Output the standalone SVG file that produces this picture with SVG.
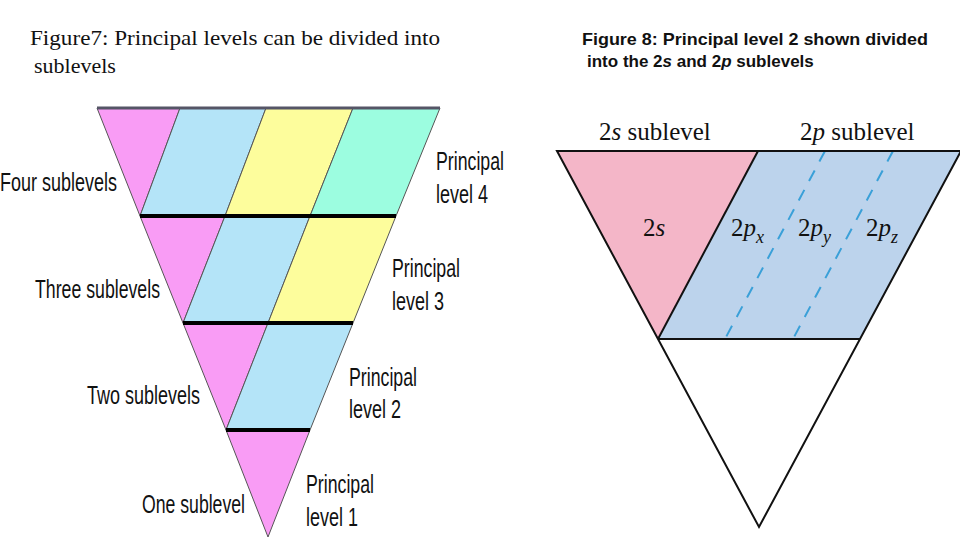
<svg xmlns="http://www.w3.org/2000/svg" width="960" height="540" viewBox="0 0 960 540">
<style>
.lab{font-family:"Liberation Sans",Arial,sans-serif;font-size:25px;fill:#111}
.tm{font-family:"Liberation Serif","Times New Roman",serif;fill:#111}
.e{stroke:#555;stroke-width:1}
.bar{stroke:#000;stroke-width:4}
.ds{stroke:#3aa0d8;stroke-width:2;stroke-dasharray:12,10}
</style>
<rect width="960" height="540" fill="#fff"/>
<g id="titles">
<text class="tm" x="30" y="45" font-size="22" textLength="410" lengthAdjust="spacingAndGlyphs">Figure7: Principal levels can be divided into</text>
<text class="tm" x="34" y="73" font-size="22">sublevels</text>
<text x="582" y="45" font-family="Liberation Sans,Arial,sans-serif" font-size="17" font-weight="bold" fill="#111" textLength="346" lengthAdjust="spacingAndGlyphs">Figure 8: Principal level 2 shown divided</text>
<text x="587" y="67" font-family="Liberation Sans,Arial,sans-serif" font-size="17" font-weight="bold" fill="#111">into the 2<tspan font-style="italic">s</tspan> and 2<tspan font-style="italic">p</tspan> sublevels</text>
</g>
<g id="fig7">
<g class="e">
<polygon points="97,108 180,108 140,216" fill="#f99cf5"/>
<polygon points="180,108 266,108 225,216 140,216" fill="#b4e4f8"/>
<polygon points="266,108 353,108 310,216 225,216" fill="#fdfd9c"/>
<polygon points="353,108 440,108 396,216 310,216" fill="#9cfde0"/>
<polygon points="140,216 225,216 183,323" fill="#f99cf5"/>
<polygon points="225,216 310,216 268,323 183,323" fill="#b4e4f8"/>
<polygon points="310,216 396,216 353,323 268,323" fill="#fdfd9c"/>
<polygon points="183,323 268,323 226,430" fill="#f99cf5"/>
<polygon points="268,323 353,323 310,430 226,430" fill="#b4e4f8"/>
<polygon points="226,430 310,430 268,537" fill="#f99cf5"/>
</g>
<line x1="97" y1="108" x2="440" y2="108" stroke="#556" stroke-width="3"/>
<line class="bar" x1="140" y1="216" x2="396" y2="216"/>
<line class="bar" x1="183" y1="323" x2="353" y2="323"/>
<line class="bar" x1="226" y1="430" x2="310" y2="430"/>
<text class="lab" x="0" y="191" textLength="117" lengthAdjust="spacingAndGlyphs">Four sublevels</text>
<text class="lab" x="436" y="170" textLength="68" lengthAdjust="spacingAndGlyphs">Principal</text>
<text class="lab" x="436" y="203" textLength="52" lengthAdjust="spacingAndGlyphs">level 4</text>
<text class="lab" x="35" y="298" textLength="125" lengthAdjust="spacingAndGlyphs">Three sublevels</text>
<text class="lab" x="392" y="277" textLength="68" lengthAdjust="spacingAndGlyphs">Principal</text>
<text class="lab" x="392" y="310" textLength="52" lengthAdjust="spacingAndGlyphs">level 3</text>
<text class="lab" x="87" y="404" textLength="113" lengthAdjust="spacingAndGlyphs">Two sublevels</text>
<text class="lab" x="349" y="386" textLength="68" lengthAdjust="spacingAndGlyphs">Principal</text>
<text class="lab" x="349" y="418" textLength="52" lengthAdjust="spacingAndGlyphs">level 2</text>
<text class="lab" x="142" y="513" textLength="103" lengthAdjust="spacingAndGlyphs">One sublevel</text>
<text class="lab" x="306" y="493" textLength="68" lengthAdjust="spacingAndGlyphs">Principal</text>
<text class="lab" x="306" y="526" textLength="52" lengthAdjust="spacingAndGlyphs">level 1</text>
</g>
<g id="fig8">
<polygon points="557,151 758,151 658,339" fill="#f4b6c8"/>
<polygon points="758,151 961,151 860,339 658,339" fill="#bcd3ec"/>
<line class="ds" x1="825" y1="151" x2="725" y2="339"/>
<line class="ds" x1="893" y1="151" x2="793" y2="339"/>
<g fill="none" stroke="#111" stroke-width="2">
<polygon points="557,151 961,151 759,527"/>
<line x1="758" y1="151" x2="658" y2="339"/>
<line x1="658" y1="339" x2="860" y2="339"/>
</g>
<text class="tm" x="599" y="140" font-size="25">2<tspan font-style="italic">s</tspan> sublevel</text>
<text class="tm" x="800" y="140" font-size="25">2<tspan font-style="italic">p</tspan> sublevel</text>
<text class="tm" x="643" y="236" font-size="25">2<tspan font-style="italic">s</tspan></text>
<text class="tm" x="731" y="236" font-size="25">2<tspan font-style="italic">p</tspan><tspan font-style="italic" font-size="18" dy="7">x</tspan></text>
<text class="tm" x="798" y="236" font-size="25">2<tspan font-style="italic">p</tspan><tspan font-style="italic" font-size="18" dy="7">y</tspan></text>
<text class="tm" x="866" y="236" font-size="25">2<tspan font-style="italic">p</tspan><tspan font-style="italic" font-size="18" dy="7">z</tspan></text>
</g>
</svg>
